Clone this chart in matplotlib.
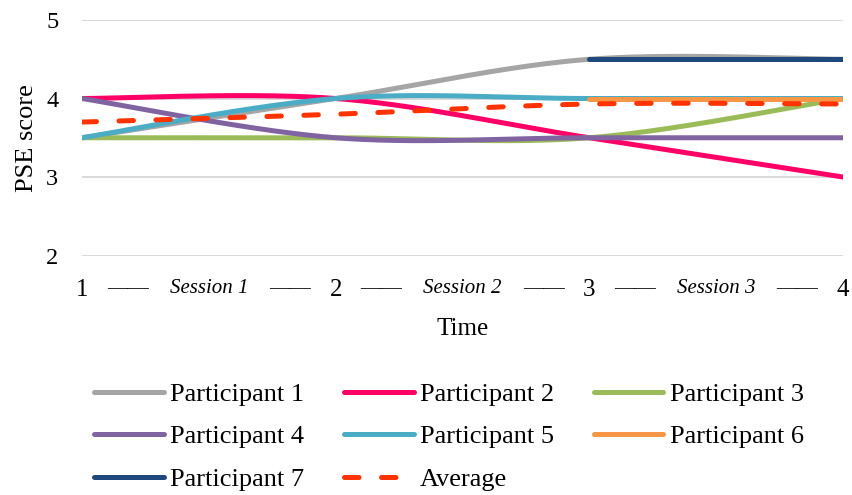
import numpy as np
import matplotlib
matplotlib.use("Agg")
import matplotlib.pyplot as plt
from matplotlib.lines import Line2D

plt.rcParams['font.family'] = ['Liberation Serif', 'DejaVu Serif']

time_points = [1, 2, 3, 4]
participant_1 = [3.5, 4.0, 4.5, 4.5]
participant_2 = [4.0, 4.0, 3.5, 3.0]
participant_3 = [3.5, 3.5, 3.5, 4.0]
participant_4 = [4.0, 3.5, 3.5, 3.5]
participant_5 = [3.5, 4.0, 4.0, 4.0]
participant_6 = [np.nan, np.nan, 4.0, 4.0]
participant_7 = [np.nan, np.nan, 4.5, 4.5]
average = [3.7, 3.8, 3.93, 3.93]

series_names = ["Participant 1", "Participant 2", "Participant 3", "Participant 4",
                "Participant 5", "Participant 6", "Participant 7"]
series_colors = ["#A5A5A5", "#FF0066", "#9BBB59", "#8064A2",
                 "#4BACC6", "#F79646", "#1F497D"]
average_color = "#FF3300"

tick_positions = [1, 1.18, 1.5, 1.82, 2, 2.18, 2.5, 2.82, 3, 3.18, 3.5, 3.82, 4]
tick_labels = ["1", "——", "Session 1", "——", "2", "——", "Session 2", "——",
               "3", "——", "Session 3", "——", "4"]


def smooth(xs, ys, n=60):
    """Piecewise cubic Bezier through the points (Catmull-Rom style tangents)."""
    xs = np.asarray(xs, float)
    ys = np.asarray(ys, float)
    ok = ~np.isnan(ys)
    xs, ys = xs[ok], ys[ok]
    pts = np.column_stack([xs, ys])
    m = len(pts)
    if m < 3:
        return xs, ys
    out = []
    t = np.linspace(0, 1, n)
    for i in range(m - 1):
        p0 = pts[i]
        p3 = pts[i + 1]
        prev = pts[i - 1] if i > 0 else pts[i]
        nxt = pts[i + 2] if i + 2 < m else pts[i + 1]
        c1 = p0 + (p3 - prev) / 6.0
        c2 = p3 - (nxt - p0) / 6.0
        seg = ((1 - t) ** 3)[:, None] * p0 + (3 * (1 - t) ** 2 * t)[:, None] * c1 \
            + (3 * (1 - t) * t ** 2)[:, None] * c2 + (t ** 3)[:, None] * p3
        out.append(seg if i == 0 else seg[1:])
    out = np.vstack(out)
    return out[:, 0], out[:, 1]


fig = plt.figure(figsize=(8.53, 4.95), dpi=100)
ax = fig.add_axes([0.0961, 0.4838, 0.8922, 0.4758])

all_series = [participant_1, participant_2, participant_3, participant_4,
              participant_5, participant_6, participant_7]
handles = []
for vals, name, col in zip(all_series, series_names, series_colors):
    sx, sy = smooth(time_points, vals)
    ax.plot(sx, sy, color=col, lw=3.6, solid_capstyle='round', zorder=3)
    handles.append(Line2D([], [], color=col, lw=3.6, solid_capstyle='round', label=name))

ax_x, ax_y = smooth(time_points, average)
ax.plot(ax_x, ax_y, color=average_color, lw=3.6, dashes=(2.9, 4.5),
        dash_capstyle='round', zorder=4)
avg_handle = Line2D([], [], color=average_color, lw=3.6, dashes=(2.9, 4.5),
                    dash_capstyle='round', label="Average")

ax.set_xlim(1, 4)
ax.set_ylim(2, 5)
ax.set_yticks([2, 3, 4, 5])
ax.grid(axis='y', color='#D9D9D9', lw=1.4, zorder=0)
for s in ax.spines.values():
    s.set_visible(False)
ax.tick_params(axis='y', length=0, pad=17, labelsize=17.5)
ax.tick_params(axis='x', length=0, pad=17, labelsize=18)
ax.set_xticks(tick_positions)
ax.set_xticklabels(tick_labels)
for lab in ax.get_xticklabels():
    if lab.get_text().startswith("Session"):
        lab.set_fontstyle('italic')
        lab.set_fontsize(15)
    elif lab.get_text().startswith("—"):
        lab.set_fontsize(15)
ax.set_ylabel("PSE score", fontsize=19, labelpad=6)
ax.set_xlabel("Time", fontsize=18, labelpad=12)

order = [handles[0], handles[3], handles[6], handles[1], handles[4], avg_handle,
         handles[2], handles[5]]
fig.legend(handles=order, ncol=3, loc='upper left', bbox_to_anchor=(0.098, 0.2485),
           frameon=False, fontsize=19, handlelength=2.65, handletextpad=0.23,
           columnspacing=1.5, labelspacing=0.72, borderaxespad=0)

fig.savefig("out.png", dpi=100)
